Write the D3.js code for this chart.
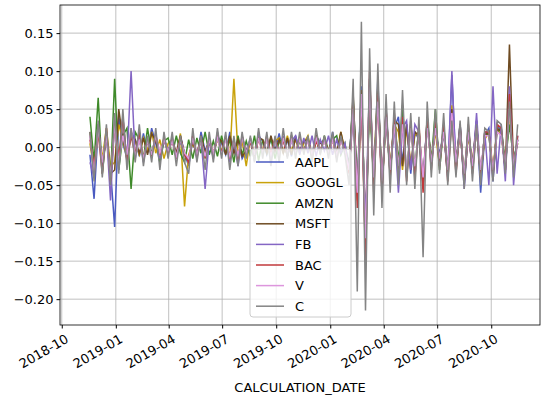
<!DOCTYPE html>
<html>
<head>
<meta charset="utf-8">
<script src="https://cdn.jsdelivr.net/npm/d3@7"></script>
<style>
  body { margin: 0; background: #fff; }
  text { font-family: "DejaVu Sans", sans-serif; }
</style>
</head>
<body>
<svg id="chart" width="550" height="400"></svg>
<script>
(function(){

  // weekly returns, in thousandths
  var tickers = ["AAPL","GOOGL","AMZN","MSFT","FB","BAC","V","C"];
  var colors  = ["#4a5ac0","#c9a20a","#3f8a2a","#6e4b22","#8466c4","#c0393b","#dd96dd","#848484"];

  var aapl  = [-10,-68,25,-20,15,-30,-105,40,5,-15, 20,10,-12,18,-8,25,5,-20,12,-5, 8,-10,15,-8,-25,10,-15,20,-5,8, -12,15,5,-10,20,-8,12,-15,-5,10, -18,15,8,-10,12,-5,18,-8,10,-12, 15,-6,8,12,-10,15,5,10,-8,20, -10,15,-5,-20,60,-50,80,-120,70,-40, 90,-60,50,-30,25,40,-20,30,-35,20, 10,-45,35,-20,25,-10,20,-40,95,-25, 30,-50,20,-30,35,-60,15,25,-45,30, 20,-30,55,-20,10];
  var googl = [5,-30,20,-15,25,-25,-20,30,10,-15, 15,8,-10,12,-5,20,-8,10,-15,5, 10,-12,18,-78,-10,5,-8,12,-10,5, -8,10,-5,12,-15,90,-10,8,-25,12, -10,15,-5,10,-15,8,12,-8,15,-5, 10,-8,5,15,-12,8,-5,10,-8,15, -12,20,-5,-30,50,-70,60,-100,65,-30, 80,-55,40,-25,30,20,-30,25,-20,15, 20,-40,30,-15,20,-25,30,-35,55,-30, 25,-45,15,-20,30,-35,10,20,-30,25, 15,-25,45,-20,5];
  var amzn  = [40,-20,65,-35,20,-45,90,-30,15,25, -55,20,10,-15,25,-10,15,-20,8,12, -10,15,-8,-20,10,-15,12,-8,20,-10, 8,-12,15,-8,10,-20,15,-10,8,-12, 15,-18,10,-8,12,-15,8,10,-12,15, -10,8,-5,12,-15,10,-8,15,-5,10, 15,-10,5,-25,65,-50,70,-110,60,-45, 75,-50,35,-35,40,-20,55,-40,30,-25, 25,-55,40,-20,50,-30,25,-30,40,-20, 20,-35,25,-25,30,-40,20,15,-35,20, 25,-20,30,-15,5];
  var msft  = [20,-40,30,-25,15,-35,-30,50,10,-10, 15,10,-8,12,-10,18,8,-12,10,-5, 10,-8,15,-10,-15,8,-12,15,-8,10, -10,12,8,-10,15,-8,10,-12,-5,8, -10,12,10,-8,15,-5,10,-8,12,-10, 12,-5,8,10,-12,15,5,8,-8,15, -8,20,-5,-30,70,-60,75,-140,90,-50, 80,-45,45,-30,35,30,-25,30,-30,20, 15,-50,30,-20,25,-15,20,-35,50,-20, 30,-45,20,-25,35,-40,15,20,-35,25, 20,-30,135,-25,10];
  var fb    = [-20,-40,30,-25,20,-70,35,-30,40,-20, 100,-15,15,-20,10,-12,18,-15,10,-8, 12,-15,8,-10,-20,15,-10,12,-55,10, -15,20,-10,15,-20,10,-25,15,-8,12, -15,20,-10,12,-18,10,-8,15,-12,8, 15,-10,12,-8,15,-12,10,-5,15,-10, 10,-8,5,-30,40,-60,60,-100,90,-40, 70,-50,40,-35,30,-60,25,35,-30,30, 20,-40,35,-25,30,-20,25,-35,100,-30, 30,-55,25,-30,45,-40,20,-50,80,-35, 30,-45,80,-50,15];
  var bac   = [10,-25,20,-35,25,-45,30,-15,40,-20, 15,-10,20,-15,8,-12,15,-10,12,-8, 10,-15,12,-10,-20,15,-12,10,-15,12, -10,15,-8,12,-15,10,-20,15,-10,8, -15,12,-8,15,-10,12,-8,10,-12,15, -8,12,-5,10,-12,8,-5,12,-8,10, -15,10,-5,-35,60,-80,70,-150,100,-60, 70,-60,50,-40,45,-30,40,-45,35,-40, 30,-60,40,-30,35,-25,30,-45,40,-35, 25,-45,30,-35,25,-40,20,20,-40,30, 25,-30,70,-30,15];
  var visa  = [15,-35,25,-20,15,-40,30,-20,15,-10, 25,-12,10,-15,8,-10,15,-8,10,-5, 8,-12,10,-8,-15,12,-10,8,-12,10, -8,12,-10,10,-12,8,-10,12,-8,10, -10,12,-8,10,-12,8,-10,12,-8,10, -8,10,-6,8,-10,12,-5,8,-8,10, -10,8,-5,-30,50,-60,70,-120,80,-40, 60,-45,40,-30,30,-25,30,-30,25,-25, 20,-40,25,-20,25,-15,20,-30,45,-20, 20,-35,20,-25,25,-30,15,15,-30,20, 15,-25,50,-25,10];
  var citi  = [20,-45,35,-40,30,-50,45,-35,50,-30, 25,-20,30,-25,15,-20,25,-30,20,-15, 20,-25,15,-20,-35,25,-20,15,-30,20, -20,25,-15,20,-30,15,-25,20,-15,15, -20,25,-15,20,-25,15,-20,25,-15,20, -15,20,-10,15,-20,25,-10,15,-15,20, -20,15,-10,-50,90,-190,165,-215,130,-90, 110,-80,70,-60,60,-50,75,-50,45,-55, 40,-145,60,-40,50,-35,45,-50,35,-40, 35,-55,40,-45,30,-50,25,20,-45,35, 30,-35,60,-40,30];

  var series = [aapl, googl, amzn, msft, fb, bac, visa, citi];
  var dates = d3.timeWeek.every(1).range(new Date(2018,10,18), new Date(2020,10,30)).slice(0, aapl.length);

  var yTicks = [0.15,0.10,0.05,0.00,-0.05,-0.10,-0.15,-0.20];
  var xTicks = d3.timeMonth.every(3).range(new Date(2018,9,1), new Date(2020,10,2));

  var m = {left: 60, right: 540, top: 5, bottom: 325};
  var svg = d3.select("#chart");

  var x = d3.scaleTime().domain([new Date(2018,8,28), new Date(2020,11,23)]).range([m.left, m.right]);
  var y = d3.scaleLinear().domain([-0.234, 0.187]).range([m.bottom, m.top]);

  // grid
  svg.append("g").selectAll("line").data(xTicks).enter().append("line")
    .attr("x1", function(d){ return x(d); }).attr("x2", function(d){ return x(d); })
    .attr("y1", m.top).attr("y2", m.bottom).attr("stroke", "#b0b0b0").attr("stroke-width", 0.8);
  svg.append("g").selectAll("line").data(yTicks).enter().append("line")
    .attr("y1", function(d){ return y(d); }).attr("y2", function(d){ return y(d); })
    .attr("x1", m.left).attr("x2", m.right).attr("stroke", "#b0b0b0").attr("stroke-width", 0.8);

  // lines
  var line = d3.line()
    .x(function(d, i){ return x(dates[i]); })
    .y(function(d){ return y(d / 1000); });
  series.forEach(function(s, k){
    svg.append("path").datum(s).attr("d", line)
      .attr("fill", "none").attr("stroke", colors[k]).attr("stroke-width", 1.5);
  });

  // axes
  var xAxis = svg.append("g").attr("transform", "translate(0," + m.bottom + ")")
    .call(d3.axisBottom(x).tickValues(xTicks).tickFormat(d3.timeFormat("%Y-%m")).tickSizeOuter(0).tickSize(3.5));
  xAxis.selectAll("text").attr("font-size", 13).attr("fill", "#000")
    .style("text-anchor", "end").attr("dx", 0).attr("dy", 0)
    .attr("transform", "translate(4,11) rotate(-30)");
  var yAxis = svg.append("g").attr("transform", "translate(" + m.left + ",0)")
    .call(d3.axisLeft(y).tickValues(yTicks).tickFormat(d3.format(".2f")).tickSizeOuter(0).tickSize(3.5));
  yAxis.selectAll("text").attr("font-size", 13).attr("fill", "#000");
  svg.selectAll(".domain").remove();
  svg.append("rect").attr("x", m.left).attr("y", m.top)
    .attr("width", m.right - m.left).attr("height", m.bottom - m.top)
    .attr("fill", "none").attr("stroke", "#000").attr("stroke-width", 0.8);

  svg.append("text").attr("x", (m.left + m.right) / 2).attr("y", 392)
    .attr("text-anchor", "middle").attr("font-size", 13).text("CALCULATION_DATE");

  // legend
  var lg = svg.append("g").attr("transform", "translate(250,149)");
  lg.append("rect").attr("width", 101).attr("height", 168).attr("rx", 3)
    .attr("fill", "#fff").attr("fill-opacity", 0.8).attr("stroke", "#ccc");
  tickers.forEach(function(t, k){
    var yy = 13 + k * 20.6;
    lg.append("line").attr("x1", 6).attr("x2", 34).attr("y1", yy).attr("y2", yy)
      .attr("stroke", colors[k]).attr("stroke-width", 1.5);
    lg.append("text").attr("x", 45).attr("y", yy + 4.5).attr("font-size", 13).text(t);
  });

})();
</script>
</body>
</html>
